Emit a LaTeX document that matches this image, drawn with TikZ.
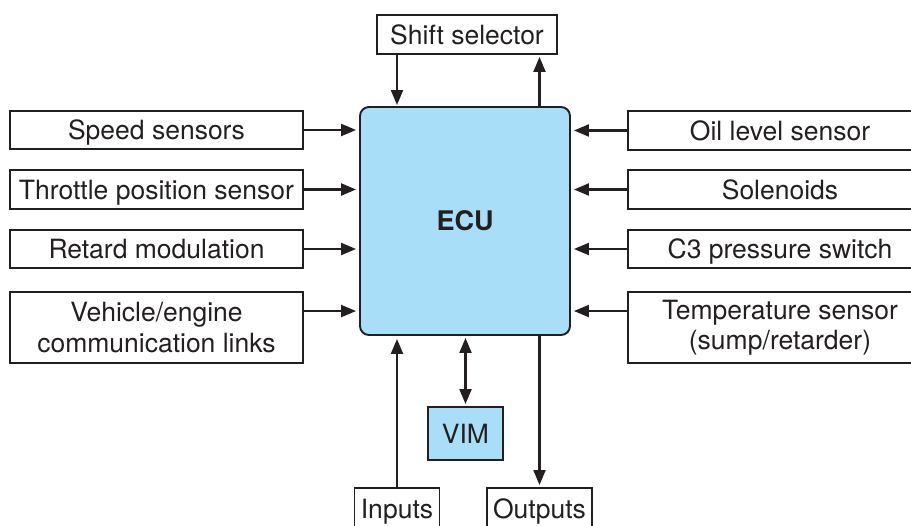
\documentclass[tikz,border=0pt]{standalone}
\usepackage{fontspec}
\setmainfont{TeX Gyre Heros}
\usepackage{xcolor}
\usetikzlibrary{arrows.meta, positioning, calc}

\definecolor{ecublue}{RGB}{168,222,248}
\definecolor{ink}{RGB}{35,31,32}

\begin{document}
\begin{tikzpicture}[
  x=1pt, y=-1pt,
  box/.style={draw=ink, rectangle, line width=1.9pt, align=center, text=ink,
              inner sep=0pt, font=\fontsize{26.5}{30.5}\selectfont},
  single/.style={box, text depth=0pt},
  unit/.style={box, fill=ecublue},
  arr/.style={-{Triangle[length=15pt,width=12pt]}, line width=2.1pt, draw=ink},
  dbl/.style={{Triangle[length=15pt,width=12pt]}-{Triangle[length=15pt,width=12pt]},
              line width=2.1pt, draw=ink}
]
  \useasboundingbox (0,0) rectangle (911,526);

  \node[unit, rounded corners=9pt, minimum width=210pt, minimum height=228pt,
        font=\fontsize{27}{31}\selectfont\bfseries] (ecu) at (465,221) {ECU};
  \node[single, minimum width=180pt, minimum height=39pt] (sel) at (467,34.5) {Shift selector};

  % inputs on the left
  \node[single, minimum width=293pt, minimum height=38pt] (speed)    at (156.5,130)   {Speed sensors};
  \node[single, minimum width=293pt, minimum height=39pt] (throttle) at (156.5,189.5) {Throttle position sensor};
  \node[single, minimum width=293pt, minimum height=38pt] (retard)   at (156.5,249)   {Retard modulation};
  \node[box, minimum width=293pt, minimum height=71pt] (vehicle)  at (156.5,327.5) {Vehicle/engine\\communication links};

  % inputs on the right
  \node[single, minimum width=304pt, minimum height=39pt] (oil)  at (780,130.5) {Oil level sensor};
  \node[single, minimum width=304pt, minimum height=39pt] (sol)  at (780,189.5) {Solenoids};
  \node[single, minimum width=304pt, minimum height=38pt] (c3)   at (780,249)   {C3 pressure switch};
  \node[box, minimum width=304pt, minimum height=71pt] (temp) at (780,327.5) {Temperature sensor\\(sump/retarder)};

  % bottom
  \node[unit, minimum width=75pt, minimum height=53pt] (vim) at (465.5,433.5) {VIM};
  \node[single, minimum width=85pt, minimum height=42pt] (inputs)  at (397,509) {Inputs};
  \node[single, minimum width=105pt, minimum height=42pt] (outputs) at (539.5,509) {Outputs};

  \foreach \n in {speed, throttle, retard}
    \draw[arr, shorten >=3pt] (\n.east) -- (\n.east -| ecu.west);
  \draw[arr, shorten >=3pt] ([yshift=-20pt]vehicle.north east) -- ([yshift=-20pt]vehicle.north east -| ecu.west);

  \foreach \n in {oil, sol, c3}
    \draw[arr, shorten >=3pt] (\n.west) -- (\n.west -| ecu.east);
  \draw[arr, shorten >=3pt] ([yshift=-20pt]temp.north west) -- ([yshift=-20pt]temp.north west -| ecu.east);

  \draw[arr, shorten >=1pt] (inputs.north |- sel.south) -- (inputs.north |- ecu.north);
  \draw[arr, shorten >=2pt] (outputs.north |- ecu.north) -- (outputs.north |- sel.south);

  \draw[dbl, shorten <=2pt, shorten >=2pt] (vim.north |- ecu.south) -- (vim.north);
  \draw[arr, shorten >=3pt] (inputs.north) -- (inputs.north |- ecu.south);
  \draw[arr, shorten >=2pt] (outputs.north |- ecu.south) -- (outputs.north);
\end{tikzpicture}
\end{document}
